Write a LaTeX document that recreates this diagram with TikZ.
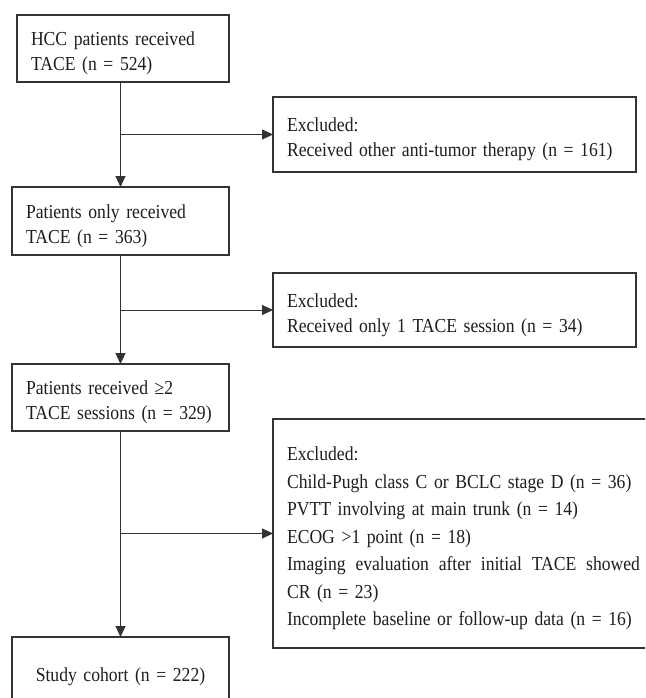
\documentclass[tikz,border=0pt]{standalone}
\usepackage{fontspec}
\setmainfont{Liberation Serif}[FakeStretch=0.89]
\usetikzlibrary{arrows.meta}
\definecolor{ink}{HTML}{1E1E1E}
\definecolor{edge}{HTML}{333333}
\begin{document}
\begin{tikzpicture}[x=1pt,y=-1pt,
  box/.style={draw=edge, line width=1.3pt, anchor=north west, inner xsep=14pt, inner ysep=0pt,
    outer sep=0pt, align=left, text=ink, font=\fontsize{19.8}{25}\selectfont,
    execute at begin node={\rule{0pt}{23.5pt}}},
  conn/.style={draw=edge, line width=1pt},
  arr/.style={conn, -{Triangle[length=11pt,width=10pt]}}]
\clip (0,0) rectangle (645,698);
\fill[white] (0,0) rectangle (645,698);
\node[box, minimum width=212pt, minimum height=67pt, text width=184pt] (b1) at (17,15)
  {\mbox{HCC patients received}\\\mbox{TACE (n = 524)}};
\node[box, minimum width=363pt, minimum height=75pt, text width=335pt] (e1) at (273,97)
  {\mbox{Excluded:}\\\mbox{Received other anti-tumor therapy (n = 161)}};
\node[box, minimum width=217pt, minimum height=68pt, text width=189pt] (b2) at (12,187)
  {\mbox{Patients only received}\\\mbox{TACE (n = 363)}};
\node[box, minimum width=363pt, minimum height=74pt, text width=335pt] (e2) at (273,273)
  {\mbox{Excluded:}\\\mbox{Received only 1 TACE session (n = 34)}};
\node[box, minimum width=217pt, minimum height=67pt, text width=189pt] (b3) at (12,364)
  {\mbox{Patients received ≥2}\\\mbox{TACE sessions (n = 329)}};
\node[box, minimum width=383pt, minimum height=229pt, text width=355pt,
  font=\fontsize{19.8}{27.5}\selectfont] (e3) at (273,419)
  {\mbox{Excluded:}\\\mbox{Child-Pugh class C or BCLC stage D (n = 36)}\\\mbox{PVTT involving at main trunk (n = 14)}\\\mbox{ECOG >1 point (n = 18)}\\\leavevmode\hbox to 353pt{Imaging\hfill evaluation\hfill after\hfill initial\hfill TACE\hfill showed}\\\mbox{CR (n = 23)}\\\mbox{Incomplete baseline or follow-up data (n = 16)}};
\node[box, minimum width=217pt, minimum height=70pt, text width=189pt, align=center,
  execute at begin node={}] (b4) at (12,637)
  {Study cohort (n = 222)};
\coordinate (t1) at (b1.south -| b2.north);
\draw[arr] (t1) -- (b2.north);
\draw[arr] (b2.north |- e1.west) -- (e1.west);
\draw[arr] (b2.south) -- (b3.north);
\draw[arr] (b2.south |- e2.west) -- (e2.west);
\draw[arr] (b3.south) -- (b4.north);
\draw[arr] (b3.south |- e3.west) -- (e3.west);
\end{tikzpicture}
\end{document}
